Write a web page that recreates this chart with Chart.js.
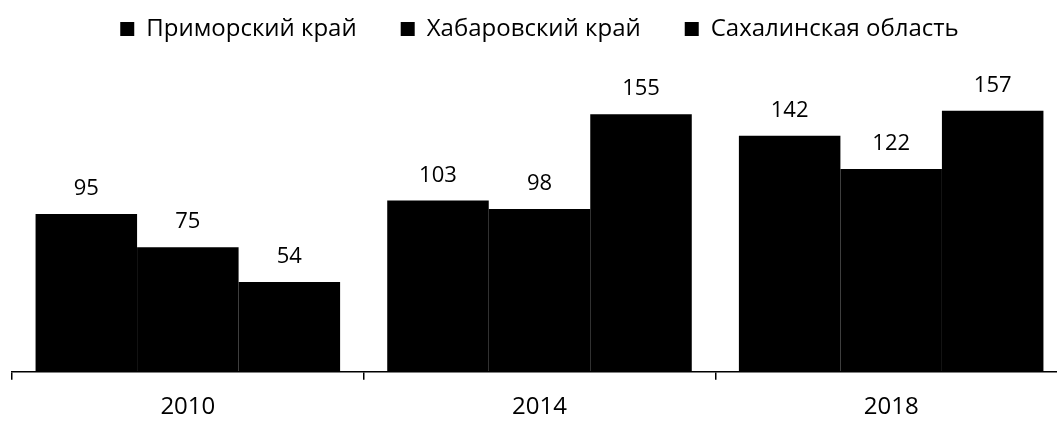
<!DOCTYPE html>
<html>
<head>
<meta charset="utf-8">
<script src="https://cdn.jsdelivr.net/npm/chart.js@4.4.1/dist/chart.umd.min.js"></script>
<style>
html,body{margin:0;padding:0;background:#fff;overflow:hidden;}
#wrap{width:1070px;height:421px;position:relative;}
</style>
</head>
<body>
<div id="wrap"><canvas id="c" width="1070" height="421"></canvas></div>
<script>
const categories = ['2010', '2014', '2018'];
const primorsky = [95, 103, 142];
const khabarovsky = [75, 98, 122];
const sakhalin = [54, 155, 157];
const seriesNames = ['Приморский край', 'Хабаровский край', 'Сахалинская область'];

const FONT = "'Open Sans', sans-serif";

const valueLabels = {
  id: 'valueLabels',
  afterDatasetsDraw(chart) {
    const ctx = chart.ctx;
    ctx.save();
    ctx.fillStyle = '#000';
    ctx.font = "22px " + FONT;
    ctx.textAlign = 'center';
    ctx.textBaseline = 'alphabetic';
    chart.data.datasets.forEach((ds, i) => {
      chart.getDatasetMeta(i).data.forEach((bar, j) => {
        ctx.fillText(String(ds.data[j]), bar.x, bar.y - 19);
      });
    });
    ctx.restore();
  }
};

new Chart(document.getElementById('c'), {
  type: 'bar',
  data: {
    labels: categories,
    datasets: [
      { label: seriesNames[0], data: primorsky, backgroundColor: '#000' },
      { label: seriesNames[1], data: khabarovsky, backgroundColor: '#000' },
      { label: seriesNames[2], data: sakhalin, backgroundColor: '#000' }
    ]
  },
  options: {
    responsive: false,
    animation: false,
    devicePixelRatio: 1,
    layout: { padding: { left: 12, right: 3, top: -27, bottom: -14 } },
    datasets: { bar: { categoryPercentage: 0.866, barPercentage: 1.0 } },
    plugins: {
      legend: {
        position: 'top',
        labels: {
          color: '#000',
          font: { family: FONT, size: 24 },
          boxWidth: 14,
          boxHeight: 14,
          padding: 44
        }
      },
      tooltip: { enabled: false }
    },
    scales: {
      x: {
        grid: { display: true, offset: true, drawOnChartArea: false, drawTicks: true, tickLength: 8, color: '#000', lineWidth: 1.5 },
        border: { display: true, color: '#000', width: 1.5 },
        ticks: { color: '#000', font: { family: FONT, size: 24, lineHeight: 1.3 }, padding: 12 }
      },
      y: {
        display: false,
        min: 0,
        max: 193
      }
    }
  },
  plugins: [valueLabels]
});
</script>
</body>
</html>
